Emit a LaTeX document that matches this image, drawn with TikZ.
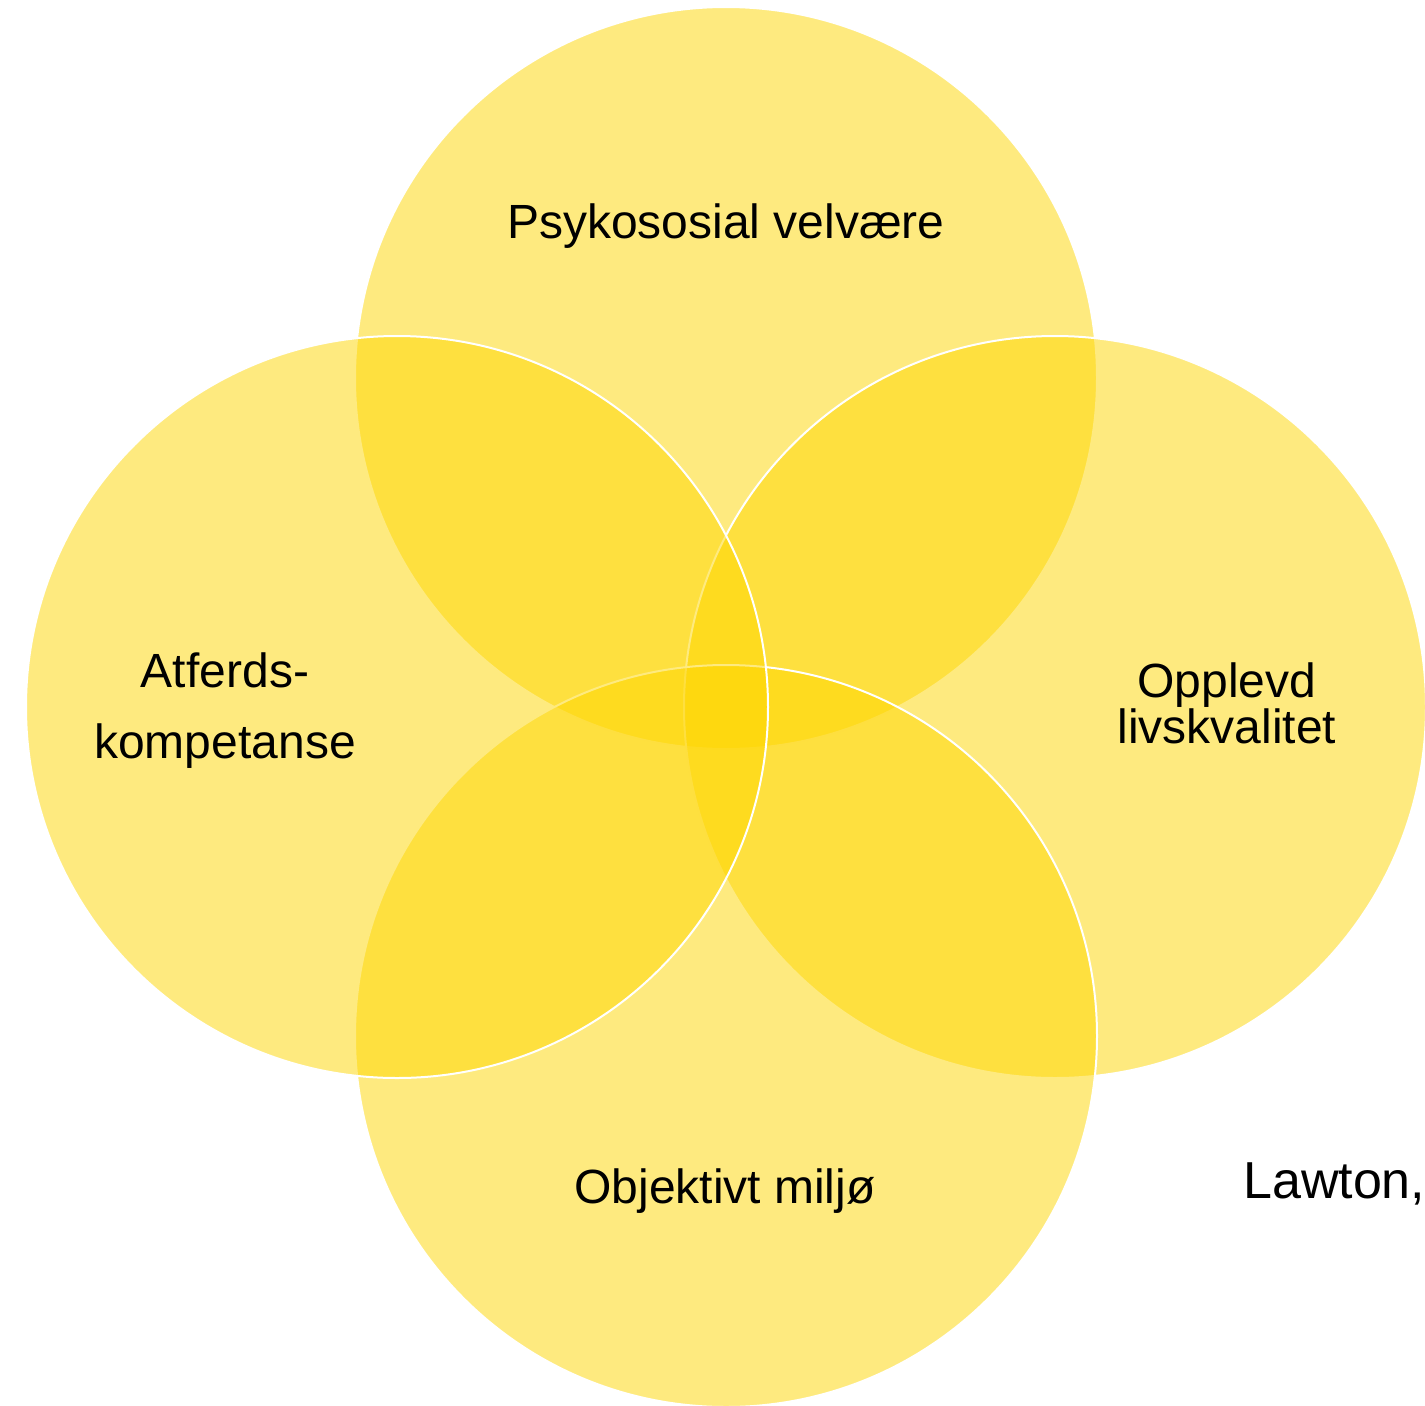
\documentclass[tikz,border=0pt]{standalone}
\usepackage{fontspec}
\setmainfont{Liberation Sans}
\definecolor{venn}{RGB}{254,214,0}
\begin{document}
\begin{tikzpicture}[x=1pt,y=-1pt,
  ring/.style={circle,minimum size=742pt,inner sep=0pt,draw=white,line width=2pt,fill=venn,fill opacity=0.5},
  lbl/.style={anchor=base,inner sep=0pt,font=\fontsize{48}{52}\selectfont,text=black}]
\useasboundingbox (0,0) rectangle (1425,1406);
\node[ring] (top) at (726,378) {};
\node[ring] (right) at (1055,707) {};
\node[ring] (bottom) at (726,1036) {};
\node[ring] (left) at (397,707) {};
\node[lbl] (psy) at (726,238) {Psykososial velvære};
\node[lbl] (atf1) at (225,687) {Atferds-};
\node[lbl] (atf2) at (225,758) {kompetanse};
\node[lbl] (opp1) at (1227,697) {Opplevd};
\node[lbl] (opp2) at (1227,743) {livskvalitet};
\node[lbl] (obj) at (725,1203) {Objektivt miljø};
\node[lbl,anchor=base west,font=\fontsize{52}{56}\selectfont] (law) at (1243,1198) {Lawton,};
\end{tikzpicture}
\end{document}
